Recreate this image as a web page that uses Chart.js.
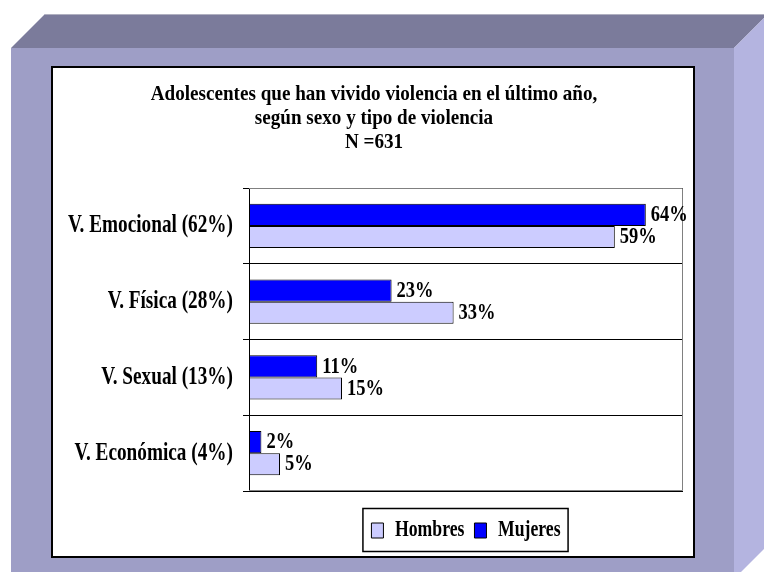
<!DOCTYPE html>
<html lang="es">
<head>
<meta charset="utf-8">
<title>Adolescentes que han vivido violencia</title>
<script src="https://cdn.jsdelivr.net/npm/chart.js@4.4.1/dist/chart.umd.min.js"></script>
<style>
  html, body { margin: 0; padding: 0; background: #fff; }
  canvas { display: block; }
</style>
</head>
<body>
<canvas id="grafico" width="764" height="572"></canvas>
<script>
// Datos
const categorias = ['V. Emocional (62%)', 'V. Física (28%)', 'V. Sexual (13%)', 'V. Económica (4%)'];
const mujeres = [64, 23, 11, 2];
const hombres = [59, 33, 15, 5];
const titulo = ['Adolescentes que han vivido violencia en el último año,', 'según sexo y tipo de violencia', 'N =631'];

const fuente = "'Liberation Serif', 'Times New Roman', serif";

const lienzo = document.getElementById('grafico');
const ctx = lienzo.getContext('2d');

// El original usa una Times condensada: se estrecha el texto horizontalmente
const proto = CanvasRenderingContext2D.prototype;
function estrechar(font) {
    return font.indexOf('21px') >= 0 ? 0.91 : 0.77;
}
ctx.fillText = function (texto, x, y) {
    const k = estrechar(this.font);
    this.save();
    this.translate(x, y);
    this.scale(k, 1);
    proto.fillText.call(this, texto, 0, 0);
    this.restore();
};
ctx.measureText = function (texto) {
    const m = proto.measureText.call(this, texto);
    const k = estrechar(this.font);
    return {
        width: m.width * k,
        actualBoundingBoxAscent: m.actualBoundingBoxAscent,
        actualBoundingBoxDescent: m.actualBoundingBoxDescent,
        actualBoundingBoxLeft: m.actualBoundingBoxLeft * k,
        actualBoundingBoxRight: m.actualBoundingBoxRight * k
    };
};

// Marco en relieve y panel blanco
const marco = {
    id: 'marco',
    beforeDraw(chart) {
        const c = chart.ctx;
        c.save();
        c.fillStyle = '#9e9ec6';
        c.fillRect(11, 48, 723, 524);
        c.fillStyle = '#7b7b9b';
        c.beginPath();
        c.moveTo(11, 48); c.lineTo(45, 14); c.lineTo(764, 14); c.lineTo(764, 18); c.lineTo(734, 48);
        c.closePath();
        c.fill();
        c.fillStyle = '#b0b0c0';
        c.fillRect(45, 14, 719, 1);
        c.fillStyle = '#b4b4e0';
        c.beginPath();
        c.moveTo(734, 48); c.lineTo(764, 18); c.lineTo(764, 549); c.lineTo(741, 572); c.lineTo(734, 572);
        c.closePath();
        c.fill();
        c.fillStyle = '#fff';
        c.fillRect(52, 67, 642, 490);
        c.strokeStyle = '#000';
        c.lineWidth = 2;
        c.strokeRect(52, 67, 642, 490);
        c.restore();
    },
    beforeDatasetsDraw(chart) {
        const a = chart.chartArea;
        const c = chart.ctx;
        c.save();
        c.strokeStyle = '#808080';
        c.lineWidth = 1;
        c.beginPath();
        c.moveTo(a.left, a.top + 0.5); c.lineTo(a.right - 0.5, a.top + 0.5);
        c.lineTo(a.right - 0.5, a.bottom - 0.5); c.lineTo(a.left, a.bottom - 0.5);
        c.stroke();
        c.restore();
    }
};

// Etiquetas de valor al final de cada barra
const etiquetas = {
    id: 'etiquetas',
    afterDatasetsDraw(chart) {
        const c = chart.ctx;
        c.save();
        c.font = 'bold 24px ' + fuente;
        c.fillStyle = '#000';
        c.textAlign = 'left';
        c.textBaseline = 'middle';
        chart.data.datasets.forEach((ds, i) => {
            chart.getDatasetMeta(i).data.forEach((barra, j) => {
                c.fillText(ds.data[j] + '%', barra.x + 5, barra.y);
            });
        });
        c.restore();
    },
    afterDraw(chart) {
        // recuadro de la leyenda
        const lg = chart.legend;
        const cajas = lg.legendHitBoxes;
        if (!cajas || !cajas.length) return;
        const primera = cajas[0];
        const ultima = cajas[cajas.length - 1];
        const c = chart.ctx;
        c.save();
        c.strokeStyle = '#000';
        c.lineWidth = 1.5;
        c.strokeRect(primera.left - 8.5, lg.top - 0.5, ultima.left + ultima.width - primera.left + 16, lg.height);
        c.restore();
    }
};

new Chart(ctx, {
    type: 'bar',
    data: {
        labels: categorias,
        datasets: [{
            label: 'Mujeres',
            data: mujeres,
            backgroundColor: '#0000ff',
            borderColor: '#000',
            borderWidth: 1,
            borderSkipped: false
        }, {
            label: 'Hombres',
            data: hombres,
            backgroundColor: '#ccccff',
            borderColor: '#000',
            borderWidth: 1,
            borderSkipped: false
        }]
    },
    options: {
        indexAxis: 'y',
        responsive: false,
        animation: false,
        categoryPercentage: 0.583,
        barPercentage: 1,
        layout: { padding: { left: 65, right: 81, top: 66, bottom: 20 } },
        scales: {
            x: {
                min: 0,
                max: 70,
                ticks: { display: false },
                grid: { display: false },
                border: { display: false },
                afterFit: s => { s.height = 18; }
            },
            y: {
                grid: { color: '#000', lineWidth: 1, tickLength: 6, tickColor: '#000' },
                border: { color: '#000', width: 1 },
                ticks: { color: '#000', padding: 10, font: { family: fuente, size: 25, weight: 'bold' } },
                afterFit: s => { s.width = 184; }
            }
        },
        plugins: {
            title: {
                display: true,
                text: titulo,
                color: '#000',
                font: { family: fuente, size: 21, weight: 'bold', lineHeight: '24px' },
                padding: { top: 17, bottom: 33 }
            },
            legend: {
                position: 'bottom',
                fullSize: false,
                reverse: true,
                labels: {
                    color: '#000',
                    boxWidth: 12,
                    boxHeight: 15,
                    padding: 10,
                    font: { family: fuente, size: 23, weight: 'bold' }
                }
            },
            tooltip: { enabled: false }
        }
    },
    plugins: [marco, etiquetas]
});
</script>
</body>
</html>
